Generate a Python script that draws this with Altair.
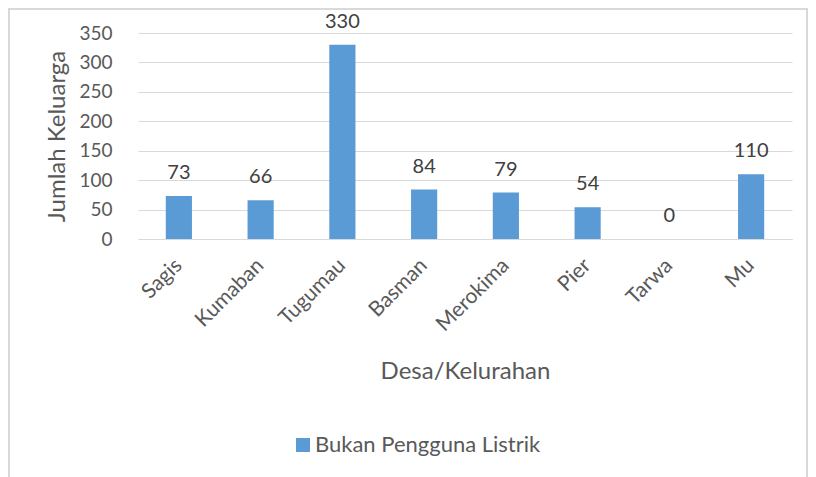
import altair as alt
import pandas as pd

desa = ["Sagis", "Kumaban", "Tugumau", "Basman", "Merokima", "Pier", "Tarwa", "Mu"]
nilai = [73, 66, 330, 84, 79, 54, 0, 110]
seri = "Bukan Pengguna Listrik"
y_ticks = [0, 50, 100, 150, 200, 250, 300, 350]

df = pd.DataFrame({"Desa": desa, "Jumlah": nilai, "Seri": [seri] * len(desa)})

FONT = "Lato"
BLUE = "#5b9bd5"
GREY = "#595959"

base = alt.Chart(df)

x_enc = alt.X(
    "Desa:N",
    sort=None,
    scale=alt.Scale(paddingInner=0, paddingOuter=0),
    axis=alt.Axis(
        title="Desa/Kelurahan",
        labelAngle=-45,
        labelAlign="right",
        labelBaseline="middle",
        labelPadding=23,
        labelFontSize=21,
        labelColor=GREY,
        labelFont=FONT,
        labelLimit=0,
        ticks=False,
        domainColor="#d9d9d9",
        domainWidth=1,
        titleFontSize=24,
        titleFont=FONT,
        titleFontWeight="normal",
        titleColor=GREY,
        titleY=132,
        titleBaseline="middle",
    ),
)

y_enc = alt.Y(
    "Jumlah:Q",
    scale=alt.Scale(domain=[0, 350], nice=False),
    axis=alt.Axis(
        title="Jumlah Keluarga",
        values=y_ticks,
        labelOverlap=False,
        domain=False,
        ticks=False,
        labelPadding=26,
        labelFontSize=19,
        labelColor=GREY,
        labelFont=FONT,
        gridColor="#d9d9d9",
        gridWidth=1,
        titleFontSize=24,
        titleFont=FONT,
        titleFontWeight="normal",
        titleColor=GREY,
        titleAngle=-90,
        titleX=-81,
        titleY=103,
        titleAlign="center",
        titleBaseline="middle",
    ),
)

bars = base.mark_bar(width=alt.RelativeBandSize(0.32)).encode(
    x=x_enc,
    y=y_enc,
    color=alt.Color(
        "Seri:N",
        scale=alt.Scale(domain=[seri], range=[BLUE]),
        legend=alt.Legend(
            title=None,
            orient="none",
            legendX=154,
            legendY=401,
            symbolType="square",
            symbolSize=196,
            symbolStrokeWidth=0,
            labelFontSize=22,
            labelFont=FONT,
            labelColor=GREY,
            labelOffset=1,
            labelLimit=0,
        ),
    ),
)

labels = base.mark_text(
    font=FONT, fontSize=20, color="#404040", baseline="middle", dy=-23
).encode(x=x_enc, y=y_enc, text="Jumlah:Q")

border = alt.Chart(pd.DataFrame({"a": [0]})).mark_rect(
    fill=None, stroke="#d9d9d9", strokeWidth=2, clip=False
).encode(
    x=alt.value(-129), x2=alt.value(669), y=alt.value(-24), y2=alt.value(460)
)

chart = alt.layer(bars, labels, border).properties(
    width=654,
    height=206,
    autosize=alt.AutoSizeParams(type="none"),
    padding={"left": 130, "top": 25, "right": 16, "bottom": 238},
).configure_view(stroke=None)

chart.save("out.html", embed_options={"renderer": "svg", "actions": False})
